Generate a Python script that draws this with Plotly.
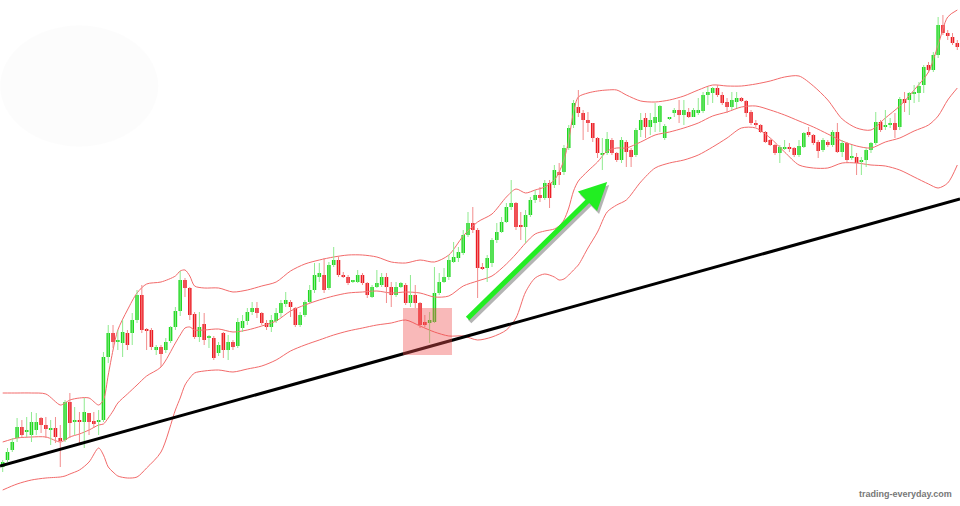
import plotly.graph_objects as go

# ---------------- data (price points) ----------------
open_ = [39,46,56,68,79,74,71,76,88,81,
         76,78,68,66,104,84,86,84,93,85,
         84,86,149,173,164,163,173,173,186,211,
         177,176,156,159,156,165,179,195,226,218,
         192,169,182,168,168,153,173,156,164,160,
         178,185,194,198,193,183,179,185,193,202,
         204,198,181,191,204,216,229,231,218,241,
         246,231,229,224,224,231,223,209,219,221,
         229,219,211,219,221,203,211,203,184,183,
         184,213,224,229,244,248,253,271,283,276,
         239,238,243,266,274,284,299,303,280,279,
         291,306,311,308,323,321,334,334,358,381,
         399,393,386,383,368,351,353,366,353,346,
         364,356,351,376,388,379,383,384,368,387,
         393,396,391,394,389,393,395,411,413,418,
         411,404,399,404,408,405,394,383,381,374,
         366,361,353,357,359,358,351,359,374,371,
         364,356,364,361,374,354,363,348,349,344,
         346,356,363,384,379,381,383,379,407,406,
         412,413,421,441,436,451,481,473,469,463]
close = [44,54,64,79,71,76,84,84,81,77,
         78,69,65,104,83,86,84,94,84,82,
         85,149,173,164,166,174,161,186,211,176,
         175,159,159,152,164,179,195,226,218,191,
         169,179,166,169,148,161,156,164,159,184,
         185,194,198,193,183,179,186,193,203,206,
         199,181,191,204,216,231,233,216,241,246,
         231,229,223,225,231,223,211,219,223,229,
         219,211,219,223,203,211,203,181,181,186,
         213,224,229,246,249,254,271,283,276,238,
         237,248,266,274,284,299,303,279,279,291,
         306,311,308,323,308,336,331,358,378,403,
         393,386,383,368,353,353,367,353,346,366,
         354,349,376,386,379,386,389,400,380,388,
         396,391,396,389,396,396,411,414,418,411,
         403,399,406,408,405,393,383,381,374,364,
         361,353,359,359,357,351,360,373,371,363,
         355,366,361,374,354,363,346,349,343,346,
         356,363,384,376,381,383,376,407,403,413,
         414,420,439,436,451,481,473,470,463,459]
high = [46,58,68,88,86,89,94,93,89,89,
        86,89,81,106,113,99,94,108,93,94,
        96,154,181,181,176,186,176,193,216,221,
        178,178,161,161,168,180,199,235,228,219,
        194,194,193,171,170,164,174,171,166,188,
        191,198,204,204,194,186,191,198,206,214,
        206,199,194,206,221,243,243,248,244,259,
        249,234,231,226,236,233,224,221,236,233,
        233,224,224,224,223,231,221,204,191,194,
        239,233,238,251,264,259,276,294,299,278,
        243,251,268,283,289,303,326,304,294,296,
        309,316,319,326,326,341,343,361,381,406,
        416,396,394,383,369,368,374,368,354,369,
        366,358,378,393,393,393,403,401,382,389,
        398,406,406,398,398,408,414,419,419,421,
        414,408,414,414,409,406,396,386,382,375,
        367,362,361,366,363,359,366,374,379,372,
        366,368,366,376,383,366,364,361,353,349,
        358,364,394,386,396,388,393,409,414,414,
        421,424,441,444,454,489,491,476,473,466]
low = [34,44,54,64,68,69,64,71,73,68,
       61,63,39,64,68,71,63,58,71,78,
       71,84,143,158,156,149,156,161,183,173,
       156,156,151,139,153,163,176,190,209,186,
       167,164,161,158,146,150,148,146,156,158,
       174,181,191,188,181,176,174,183,189,199,
       189,179,179,189,203,213,224,213,216,239,
       229,228,221,223,223,221,208,208,218,219,
       203,199,209,218,201,199,198,178,179,163,
       183,211,223,226,243,244,251,269,273,208,
       236,224,239,263,273,283,296,276,266,263,
       289,303,304,306,298,318,321,331,356,378,
       389,366,374,364,348,336,351,351,344,343,
       339,339,349,369,368,371,374,374,366,386,
       389,383,381,388,389,391,393,401,403,409,
       401,393,396,398,404,389,381,379,373,363,
       360,351,343,356,354,349,349,358,369,361,
       348,354,359,359,353,349,344,346,331,331,
       339,353,361,374,376,378,368,376,394,391,
       403,404,413,433,434,448,471,466,461,456]

# Bollinger bands read at selected candle positions
band_idx = [0,3,6,9,12,13,14,16,18,20,21,22,23,24,26,28,30,33,36,37,
            38,39,40,42,45,48,51,54,57,60,63,66,69,72,75,78,81,84,87,90,
            93,96,99,102,105,107,109,111,113,115,116,117,118,119,120,122,124,126,128,130,
            133,136,139,142,145,148,151,154,157,160,163,166,169,172,175,178,181,184,187,190,
            193,195,197,199]
band_upper = [113,113,113,112,101,103,106,108,108,101,106,131,156,176,196,213,222,224,230,235,
              236,230,220,218,218,214,216,220,224,235,242,246,249,251,251,249,244,243,246,244,
              251,270,284,292,309,317,313,316,319,326,334,346,366,394,409,413,415,416,416,411,
              405,404,406,410,416,421,420,420,422,425,429,430,420,406,387,378,376,388,400,416,
              434,461,489,496]
band_middle = [64,68,69,69,64,66,69,72,76,81,82,88,95,103,112,121,130,139,163,171,
               178,179,176,176,177,174,176,180,185,195,201,206,210,213,214,215,213,214,213,209,
               210,220,225,230,242,252,263,272,275,277,280,286,298,315,325,335,344,355,358,358,
               364,371,374,378,383,390,394,399,400,396,391,385,379,372,365,360,358,364,368,375,
               381,390,406,418]
band_lower = [16,22,26,28,29,30,32,36,44,58,51,39,34,30,28,29,38,54,96,108,
              121,128,133,135,136,134,137,140,146,155,161,166,171,175,178,181,183,186,180,174,
              170,170,166,169,176,188,214,228,232,229,226,227,231,236,241,258,274,294,301,306,
              324,338,343,346,351,359,368,378,378,368,354,341,338,338,343,343,341,340,336,329,
              322,318,323,341]

# support trendline, signal arrow and highlighted zone
trend_idx = [-0.563, 199.56]
trend_price = [40, 307]
arrow_tail = (96.6, 186)
arrow_head = (126.0, 324)
zone_idx = (83.45, 93.66)
zone_price = (151, 198)

# ---------------- build ----------------
n = len(open_)
idx = list(range(n))
up = [c >= o for o, c in zip(open_, close)]

GREEN = "#1fd81f"
RED = "#ec1a22"
GREEN_W = "#8fea8f"
RED_W = "#f28c8c"
BAND = "#f26a6a"

fig = go.Figure()

# very faint smudge at top-left (decoration)
fig.add_shape(type="circle", xref="paper", yref="paper", x0=0.0, x1=0.165, y0=0.71, y1=0.95,
              fillcolor="rgba(0,0,0,0.012)", line=dict(width=0), layer="below")

for ys in (band_upper, band_middle, band_lower):
    fig.add_trace(go.Scatter(x=band_idx, y=ys, mode="lines",
                             line=dict(color=BAND, width=1, shape="spline", smoothing=0.8),
                             hoverinfo="skip"))

for is_up, col in ((True, GREEN_W), (False, RED_W)):
    xs, ys = [], []
    for i in idx:
        if up[i] == is_up:
            xs += [i, i, None]
            ys += [low[i], high[i], None]
    fig.add_trace(go.Scatter(x=xs, y=ys, mode="lines",
                             line=dict(color=col, width=1), hoverinfo="skip"))

bases = [min(o, c) for o, c in zip(open_, close)]
heights = [max(abs(c - o), 1.8) for o, c in zip(open_, close)]
colors = [GREEN if u else RED for u in up]
fig.add_trace(go.Bar(x=idx, y=heights, base=bases, width=0.74,
                     marker=dict(color=colors, line=dict(width=0)), hoverinfo="skip"))

fig.add_trace(go.Scatter(x=trend_idx, y=trend_price, mode="lines",
                         line=dict(color="#000000", width=3), hoverinfo="skip"))

fig.add_shape(type="rect", x0=zone_idx[0], x1=zone_idx[1], y0=zone_price[0], y1=zone_price[1],
              xref="x", yref="y", fillcolor="rgba(240,80,80,0.40)", line=dict(width=0),
              layer="above")

fig.add_annotation(x=arrow_head[0], y=arrow_head[1], ax=arrow_tail[0], ay=arrow_tail[1],
                   xref="x", yref="y", axref="x", ayref="y", text="", showarrow=True,
                   arrowhead=2, arrowsize=1.1, arrowwidth=5, arrowcolor="rgba(90,90,90,0.45)",
                   xshift=2, yshift=-3)
fig.add_annotation(x=arrow_head[0], y=arrow_head[1], ax=arrow_tail[0], ay=arrow_tail[1],
                   xref="x", yref="y", axref="x", ayref="y", text="", showarrow=True,
                   arrowhead=2, arrowsize=1.1, arrowwidth=5, arrowcolor="#22ee22")

fig.add_annotation(text="trading-everyday.com", xref="paper", yref="paper",
                   x=0.943, y=0.024, xanchor="center", yanchor="middle", showarrow=False,
                   font=dict(family="Liberation Sans", size=9, color="#777777", weight="bold"))

fig.update_layout(width=960, height=506, margin=dict(l=0, r=0, t=0, b=0),
                  paper_bgcolor="white", plot_bgcolor="white", showlegend=False,
                  barmode="overlay",
                  xaxis=dict(visible=False, range=[-0.563, 199.56], fixedrange=True),
                  yaxis=dict(visible=False, range=[0, 506], fixedrange=True))

fig.write_html("out.html")
